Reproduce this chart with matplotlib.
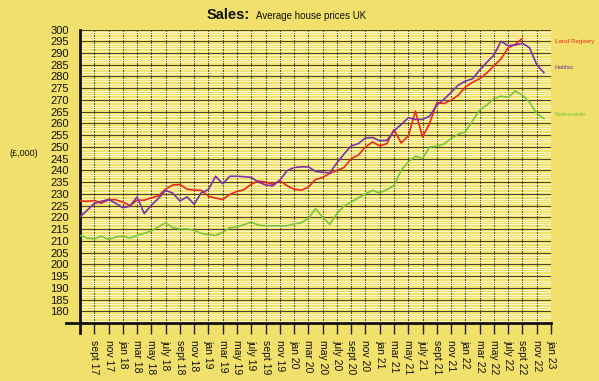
#!/usr/bin/env python
# -*- coding: utf-8 -*-

"""Sales: average house prices UK (Land Registry, Halifax, Nationwide)"""

from matplotlib import pyplot as plt
from matplotlib.ticker import MultipleLocator
import numpy as np

# monthly values, £000, from jul 17
land_registry = [227.0, 226.8, 227.2, 226.0, 227.5, 227.5, 226.5, 225.0, 227.3, 227.3,
                 228.3, 229.2, 232.0, 233.8, 234.0, 232.0, 231.6, 231.5, 229.0, 228.2,
                 227.6, 229.8, 231.0, 231.8, 234.1, 235.5, 235.0, 234.1, 235.6, 233.5,
                 232.0, 231.5, 232.9, 236.1, 237.0, 238.7, 240.0, 241.2, 245.0, 246.5,
                 250.0, 252.1, 250.4, 251.4, 257.4, 251.7, 254.6, 265.2, 254.3, 260.0,
                 268.8, 268.5, 269.9, 272.0, 275.5, 277.5, 279.0, 281.5, 284.5, 287.5,
                 292.2, 293.7, 296.2]
halifax = [220.2, 223.0, 225.9, 226.8, 227.6, 226.0, 224.1, 224.8, 228.7, 221.6,
           225.2, 228.1, 231.5, 230.3, 227.0, 228.7, 225.6, 230.5, 231.8, 237.5,
           234.3, 237.5, 237.5, 237.3, 237.0, 235.0, 233.8, 233.4, 235.8, 239.8,
           241.2, 241.5, 241.5, 239.6, 239.2, 238.9, 243.2, 247.0, 250.4, 251.4,
           253.8, 254.0, 252.6, 252.8, 256.8, 259.5, 262.4, 261.7, 261.7, 263.1,
           267.8, 270.3, 273.2, 276.3, 278.0, 279.0, 282.7, 286.0, 289.1, 295.0,
           293.1, 293.4, 294.1, 292.2, 285.1, 281.6]
nationwide = [212.3, 211.2, 210.9, 212.0, 210.6, 211.6, 212.0, 211.2, 212.3, 213.2,
              214.2, 216.0, 217.7, 215.6, 215.1, 215.1, 214.4, 213.2, 212.6, 212.3,
              213.7, 215.6, 215.9, 216.9, 218.0, 216.7, 216.4, 216.4, 216.4, 216.4,
              217.2, 217.7, 219.5, 223.7, 220.1, 217.0, 221.6, 224.8, 226.5, 228.3,
              230.0, 231.5, 230.4, 231.8, 233.5, 240.0, 243.6, 246.0, 245.1, 250.0,
              250.3, 251.2, 253.6, 255.4, 256.4, 261.0, 265.7, 267.8, 270.6, 271.6,
              271.1, 273.8, 272.0, 269.0, 264.2, 262.1]

tick_labels = ['sept 17', 'nov 17', 'jan 18', 'mar 18', 'may 18', 'july 18',
               'sept 18', 'nov 18', 'jan 19', 'mar 19', 'may 19', 'july 19',
               'sept 19', 'nov 19', 'jan 20', 'mar 20', 'may 20', 'july 20',
               'sept 20', 'nov 20', 'jan 21', 'mar 21', 'may 21', 'july 21',
               'sept 21', 'nov 21', 'jan 22', 'mar 22', 'may 22', 'july 22',
               'sept 22', 'nov 22', 'jan 23']

series_names = ['Land Registry', 'Halifax', 'Nationwide']
label_levels = [294.7, 284.0, 264.0]

plt.rcParams['font.family'] = ['Liberation Sans', 'DejaVu Sans']

bg = '#f1e06b'
colores = ['#ec2a1c', '#7a32a4', '#78c63c']

fig = plt.figure(figsize=(5.99, 3.81), dpi=100, facecolor=bg)
ax = fig.add_axes([80 / 599, 1 - 323 / 381, 471 / 599, 293.5 / 381])
ax.set_facecolor(bg)

for serie, color in zip([land_registry, halifax, nationwide], colores):
	ax.plot(np.arange(len(serie)), serie, color=color, lw=1.2, zorder=3)

ax.set_xlim(0, 66)
ax.set_ylim(175, 300)

# grid: light minor lines every 1, dark major every 5
ax.yaxis.set_major_locator(MultipleLocator(5))
ax.yaxis.set_minor_locator(MultipleLocator(1))
ax.grid(which='minor', axis='y', color='#fbf5c2', lw=0.8, zorder=0)
ax.grid(which='major', axis='y', color='#4a4226', lw=0.7, zorder=1)
ax.grid(which='major', axis='x', color='#4a4226', lw=0.7, zorder=1)

ax.set_yticks(np.arange(180, 301, 5))
ax.tick_params(axis='y', which='both', length=0, pad=8, labelsize=8, labelcolor='#111111')
ax.set_xticks(np.arange(2, 67, 2))
ax.set_xticklabels(tick_labels, rotation=270, fontsize=7.5, color='#111111')
ax.tick_params(axis='x', length=8, width=1.0, color='#222222', pad=4)

for lado in ['top', 'right']:
	ax.spines[lado].set_visible(False)
for lado in ['left', 'bottom']:
	ax.spines[lado].set_linewidth(2)
	ax.spines[lado].set_color('#111111')

# small overhang of the axis lines at the origin
ax.plot([-0.03, 0], [0, 0], transform=ax.transAxes, color='#111111', lw=2, clip_on=False)
ax.plot([0, 0], [-0.035, 0], transform=ax.transAxes, color='#111111', lw=2, clip_on=False)

for nombre, nivel, color in zip(series_names, label_levels, colores):
	ax.text(66.5, nivel, nombre, color=color, fontsize=4.6, va='center', ha='left', clip_on=False)

fig.text(207 / 599, 1 - 19 / 381, 'Sales:', fontsize=10.5, fontweight='bold', color='#111111')
fig.text(256 / 599, 1 - 19 / 381, 'Average house prices UK', fontsize=7, color='#111111')
fig.text(10 / 599, 1 - 156 / 381, '(£,000)', fontsize=6.5, color='#111111')

plt.savefig('out.png', dpi=100, facecolor=bg)
